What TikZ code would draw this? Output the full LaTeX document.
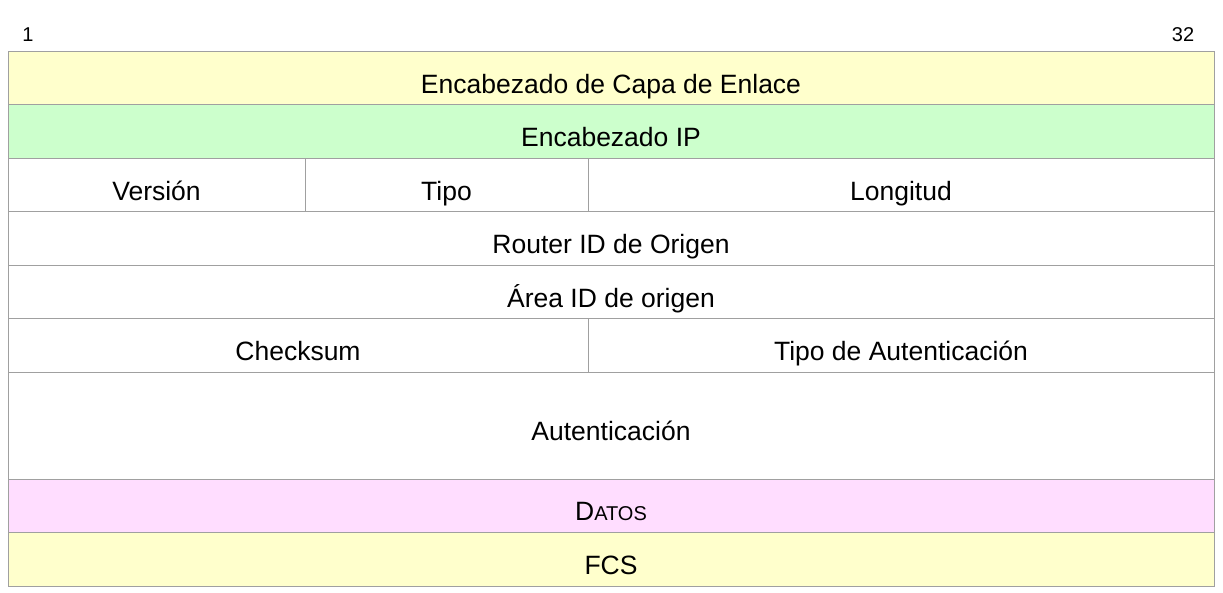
\documentclass[tikz,border=0pt]{standalone}
\usepackage{fontspec}
\setmainfont{Liberation Sans}
\usetikzlibrary{positioning}
\definecolor{colEnlace}{HTML}{FFFFCC}
\definecolor{colIP}{HTML}{CCFFCC}
\definecolor{colDatos}{HTML}{FFDDFF}
\definecolor{colBorde}{HTML}{A0A0A0}
\begin{document}
\begin{tikzpicture}[x=1pt, y=-1pt,
    font=\fontsize{26.5}{30}\selectfont,
    celda/.style={rectangle, draw=colBorde, line width=1pt, anchor=north west,
      inner sep=0pt, outer sep=0pt, text height=30pt, text depth=0pt},
    bit/.style={font=\fontsize{20}{24}\selectfont, inner sep=0pt}]
    \useasboundingbox (0,0) rectangle (1223,593);
    % numeracion de bits
    \node[bit] (b1) at (28,35) {1};
    \node[bit] (b32) at (1183,35) {32};
    % filas completas
    \node[celda, fill=colEnlace, minimum width=1206pt, minimum height=53pt]
      (enl) at (8,52) {Encabezado de Capa de Enlace};
    \node[celda, fill=colIP, minimum width=1206pt, minimum height=54pt]
      (ip) at (8,105) {Encabezado IP};
    \node[celda, minimum width=297pt, minimum height=53pt]
      (ver) at (8,159) {Versión};
    \node[celda, minimum width=283pt, minimum height=53pt]
      (tip) at (305,159) {Tipo};
    \node[celda, minimum width=626pt, minimum height=53pt]
      (lon) at (588,159) {Longitud};
    \node[celda, minimum width=1206pt, minimum height=54pt]
      (rid) at (8,212) {Router ID de Origen};
    \node[celda, minimum width=1206pt, minimum height=53pt]
      (aid) at (8,266) {Área ID de origen};
    \node[celda, minimum width=580pt, minimum height=53pt]
      (chk) at (8,319) {Checksum};
    \node[celda, minimum width=626pt, minimum height=53pt]
      (tau) at (588,319) {Tipo de Autenticación};
    \node[celda, minimum width=1206pt, minimum height=107pt]
      (aut) at (8,372) {Autenticación};
    \node[celda, fill=colDatos, minimum width=1206pt, minimum height=53pt]
      (dat) at (8,479) {D{\fontsize{20}{24}\selectfont ATOS}};
    \node[celda, fill=colEnlace, minimum width=1206pt, minimum height=54pt]
      (fcs) at (8,532) {FCS};
\end{tikzpicture}
\end{document}
